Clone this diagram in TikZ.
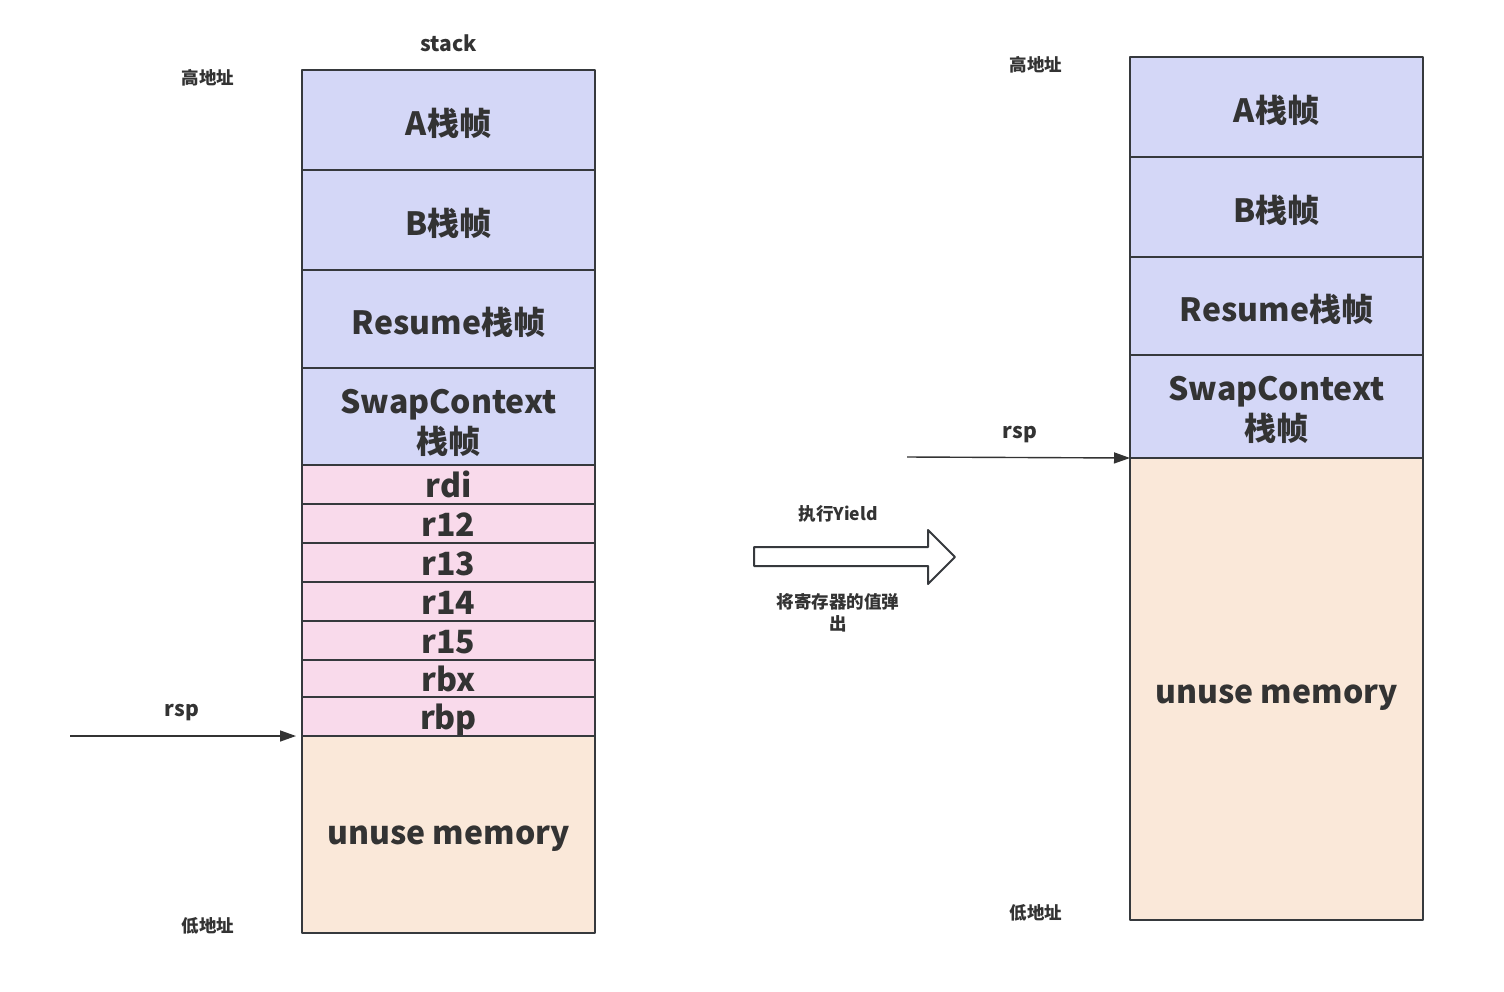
\documentclass[tikz,border=0pt]{standalone}
\usepackage{fontspec}
\setmainfont{Noto Sans CJK SC}
\usetikzlibrary{arrows.meta,positioning}
\definecolor{frameblue}{HTML}{D4D7F7}
\definecolor{regpink}{HTML}{F9DAEB}
\definecolor{freepeach}{HTML}{FAE8D9}
\definecolor{edgegray}{HTML}{36393D}
\definecolor{textgray}{HTML}{333333}
\begin{document}
\begin{tikzpicture}[x=1pt,y=-1pt,line join=round,
    cell/.style={draw=edgegray, line width=2pt, minimum width=293pt, inner sep=0pt, outer sep=0pt,
        text=textgray, align=center, font=\bfseries\fontsize{32}{40}\selectfont,
        text height=#1, text depth=6pt},
    cell/.default=36pt,
    tag/.style={text=textgray, font=\bfseries\fontsize{17.5}{22}\selectfont, align=center},
    ptr/.style={draw=textgray, line width=1.4pt, -{Triangle[length=16pt,width=11pt]}}]
    \useasboundingbox[fill=white] (0,0) rectangle (1504,991);
    \def\lx{448.5} \def\rx{1276.5}
    %Before Yield
    \node[tag, font=\bfseries\fontsize{21}{24}\selectfont] (stk) at (\lx,43) {stack};
    \node[tag] (hiL) at (208,78) {高地址};
    \node[tag] (loL) at (208,926) {低地址};
    \node[cell, fill=frameblue, minimum height=100pt] (aL) at (\lx,120) {A栈帧};
    \node[cell, fill=frameblue, minimum height=100pt] (bL) at (\lx,220) {B栈帧};
    \node[cell, fill=frameblue, minimum height=98pt] (resL) at (\lx,319) {Resume栈帧};
    \node[cell=79pt, fill=frameblue, minimum height=97pt] (swL) at (\lx,416.5) {SwapContext\\栈帧};
    \foreach \n/\t/\b in {rdi/465/504, r12/504/543, r13/543/582, r14/582/621, r15/621/660, rbx/660/697, rbp/697/736}
        \node[cell=32pt, fill=regpink, minimum height={\b-\t}] (\n) at (\lx,{(\t+\b)/2}) {\n};
    \node[cell=26pt, fill=freepeach, minimum height=197pt] (freeL) at (\lx,834.5) {unuse memory};
    \node[tag, font=\bfseries\fontsize{21}{24}\selectfont] (rspL) at (182,713) {rsp};
    \coordinate (rspLs) at (70,736);
    \draw[ptr] (rspLs) -- ([xshift=-6pt]rbp.south west);
    %Yield
    \draw[edgegray, line width=2pt, fill=white] (754,547) -- (928,547) -- (928,530) -- (955,557)
        -- (928,584) -- (928,566) -- (754,566) -- cycle;
    \node[tag] (yld) at (838,514) {执行Yield};
    \node[tag] (pop) at (838,613) {将寄存器的值弹\\出};
    %After Yield
    \node[tag] (hiR) at (1036,65) {高地址};
    \node[tag] (loR) at (1036,913) {低地址};
    \node[cell, fill=frameblue, minimum height=100pt] (aR) at (\rx,107) {A栈帧};
    \node[cell, fill=frameblue, minimum height=100pt] (bR) at (\rx,207) {B栈帧};
    \node[cell, fill=frameblue, minimum height=98pt] (resR) at (\rx,306) {Resume栈帧};
    \node[cell=74pt, fill=frameblue, minimum height=103pt] (swR) at (\rx,406.5) {SwapContext\\栈帧};
    \node[cell=34pt, fill=freepeach, minimum height=462pt] (freeR) at (\rx,689) {unuse memory};
    \node[tag, font=\bfseries\fontsize{21}{24}\selectfont] (rspR) at (1020,435) {rsp};
    \coordinate (rspRs) at (907,457);
    \draw[ptr] (rspRs) -- (swR.south west);
\end{tikzpicture}
\end{document}
